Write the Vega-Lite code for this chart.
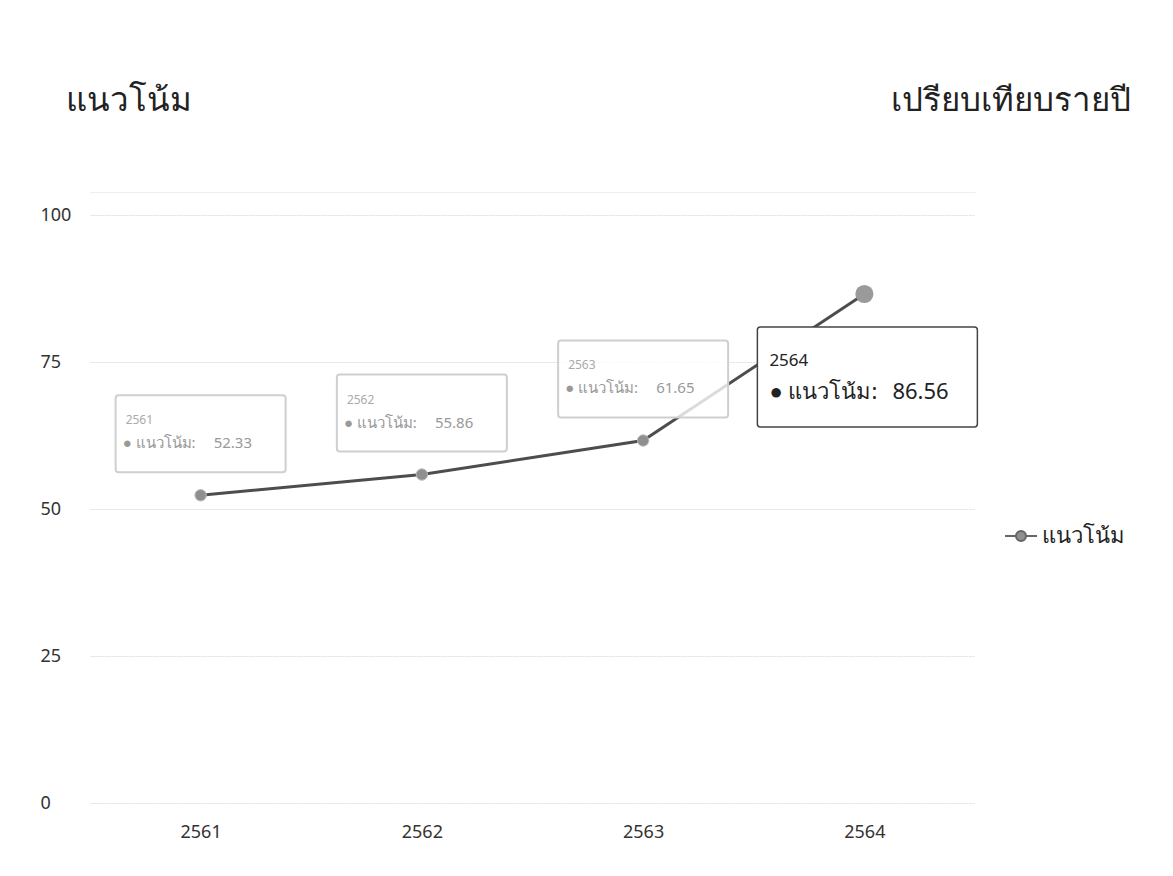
{
  "$schema": "https://vega.github.io/schema/vega-lite/v6.json",
  "autosize": "none",
  "width": 885,
  "height": 588,
  "padding": {"left": 90, "top": 215, "right": 198, "bottom": 73},
  "background": "white",
  "config": {"font": "Noto Sans", "view": {"stroke": null}},
  "data": {"values": [
    {"year": "2561", "value": 52.33, "series": "แนวโน้ม"},
    {"year": "2562", "value": 55.86, "series": "แนวโน้ม"},
    {"year": "2563", "value": 61.65, "series": "แนวโน้ม"},
    {"year": "2564", "value": 86.56, "series": "แนวโน้ม"}
  ]},
  "resolve": {"axis": {"x": "independent", "y": "independent"}},
  "layer": [
    {
      "mark": {"type": "line", "color": "#4d4d4d", "strokeWidth": 3},
      "encoding": {
        "x": {"field": "year", "type": "ordinal", "scale": {"type": "point", "padding": 0.5},
          "axis": {"orient": "bottom", "labelAngle": 0, "domain": false, "ticks": false, "labelPadding": 20, "labelFontSize": 18, "labelColor": "#333", "title": null}},
        "y": {"field": "value", "type": "quantitative", "scale": {"domain": [0, 100]},
          "axis": {"values": [0, 25, 50, 75, 100], "domain": false, "ticks": false, "labelAlign": "left", "labelPadding": 50, "labelFontSize": 18, "labelColor": "#333", "gridColor": "#dedede", "gridDash": [2, 1],
            "title": "แนวโน้ม", "titleAngle": 0, "titleX": -25, "titleY": -115, "titleAlign": "left", "titleBaseline": "middle", "titleFontSize": 33, "titleFontWeight": "normal", "titleColor": "#222"}}
      }
    },
    {
      "mark": {"type": "point", "filled": true, "size": 300, "opacity": 0},
      "encoding": {
        "x": {"field": "year", "type": "ordinal", "scale": {"type": "point", "padding": 0.5},
          "axis": {"orient": "top", "labels": false, "ticks": false, "domain": true, "domainColor": "#eeeeee", "offset": 23, "grid": false,
            "title": "เปรียบเทียบรายปี", "titleX": 1040, "titleY": -92, "titleAlign": "right", "titleBaseline": "middle", "titleFontSize": 33, "titleFontWeight": "normal", "titleColor": "#222"}},
        "y": {"field": "value", "type": "quantitative", "axis": null}
      }
    },
    {
      "transform": [{"filter": "datum.year != '2564'"}],
      "mark": {"type": "point", "filled": true, "size": 130, "opacity": 1, "stroke": "#bbb", "strokeWidth": 1},
      "encoding": {
        "x": {"field": "year", "type": "ordinal", "axis": null},
        "y": {"field": "value", "type": "quantitative", "axis": null},
        "color": {"field": "series", "type": "nominal", "scale": {"range": ["#8f8f8f"]},
          "legend": {"title": null, "orient": "none", "legendX": 920, "legendY": 310, "labelFontSize": 22, "labelColor": "#222", "labelOffset": 10, "symbolSize": 400, "symbolStrokeWidth": 2, "symbolStrokeColor": "#666",
            "symbolType": "M-1.6,0H-0.5M0.5,0H1.6M-0.5,0A0.5,0.5 0 1,0 0.5,0A0.5,0.5 0 1,0 -0.5,0Z"}}
      }
    },
    {
      "transform": [{"filter": "datum.year == '2564'"}],
      "mark": {"type": "point", "filled": true, "size": 330, "color": "#9a9a9a", "opacity": 1},
      "encoding": {
        "x": {"field": "year", "type": "ordinal", "axis": null},
        "y": {"field": "value", "type": "quantitative", "axis": null}
      }
    },
    {
      "transform": [{"filter": "datum.year != '2564'"}],
      "mark": {"type": "rect", "fill": "white", "fillOpacity": 0.8, "stroke": "#cfcfcf", "strokeWidth": 2, "cornerRadius": 3, "xOffset": -85, "x2Offset": 85, "yOffset": -100, "y2Offset": -23},
      "encoding": {
        "x": {"field": "year", "type": "ordinal", "axis": null},
        "x2": {"field": "year"},
        "y": {"field": "value", "type": "quantitative", "axis": null},
        "y2": {"field": "value"}
      }
    },
    {
      "transform": [{"filter": "datum.year != '2564'"}],
      "mark": {"type": "text", "align": "left", "baseline": "middle", "dx": -75, "dy": -75, "fontSize": 12, "color": "#aaa"},
      "encoding": {
        "x": {"field": "year", "type": "ordinal", "axis": null},
        "y": {"field": "value", "type": "quantitative", "axis": null},
        "text": {"field": "year"}
      }
    },
    {
      "transform": [{"filter": "datum.year != '2564'"}],
      "mark": {"type": "text", "align": "left", "baseline": "middle", "dx": -78, "dy": -52, "fontSize": 15, "color": "#999", "text": "● แนวโน้ม:"},
      "encoding": {
        "x": {"field": "year", "type": "ordinal", "axis": null},
        "y": {"field": "value", "type": "quantitative", "axis": null}
      }
    },
    {
      "transform": [{"filter": "datum.year != '2564'"}],
      "mark": {"type": "text", "align": "left", "baseline": "middle", "dx": 13, "dy": -52, "fontSize": 15, "color": "#999"},
      "encoding": {
        "x": {"field": "year", "type": "ordinal", "axis": null},
        "y": {"field": "value", "type": "quantitative", "axis": null},
        "text": {"field": "value", "type": "quantitative", "format": ".2f"}
      }
    },
    {
      "transform": [{"filter": "datum.year == '2564'"}],
      "mark": {"type": "rect", "fill": "white", "stroke": "#444", "strokeWidth": 1.5, "cornerRadius": 3, "xOffset": -107, "x2Offset": 113, "yOffset": 33, "y2Offset": 133},
      "encoding": {
        "x": {"field": "year", "type": "ordinal", "axis": null},
        "x2": {"field": "year"},
        "y": {"field": "value", "type": "quantitative", "axis": null},
        "y2": {"field": "value"}
      }
    },
    {
      "transform": [{"filter": "datum.year == '2564'"}],
      "mark": {"type": "text", "align": "left", "baseline": "middle", "dx": -95, "dy": 67, "fontSize": 17, "color": "#222"},
      "encoding": {
        "x": {"field": "year", "type": "ordinal", "axis": null},
        "y": {"field": "value", "type": "quantitative", "axis": null},
        "text": {"field": "year"}
      }
    },
    {
      "transform": [{"filter": "datum.year == '2564'"}],
      "mark": {"type": "text", "align": "left", "baseline": "middle", "dx": -95, "dy": 98, "fontSize": 22, "color": "#222", "text": "● แนวโน้ม:"},
      "encoding": {
        "x": {"field": "year", "type": "ordinal", "axis": null},
        "y": {"field": "value", "type": "quantitative", "axis": null}
      }
    },
    {
      "transform": [{"filter": "datum.year == '2564'"}],
      "mark": {"type": "text", "align": "left", "baseline": "middle", "dx": 28, "dy": 98, "fontSize": 22, "color": "#222"},
      "encoding": {
        "x": {"field": "year", "type": "ordinal", "axis": null},
        "y": {"field": "value", "type": "quantitative", "axis": null},
        "text": {"field": "value", "type": "quantitative", "format": ".2f"}
      }
    }
  ]
}
